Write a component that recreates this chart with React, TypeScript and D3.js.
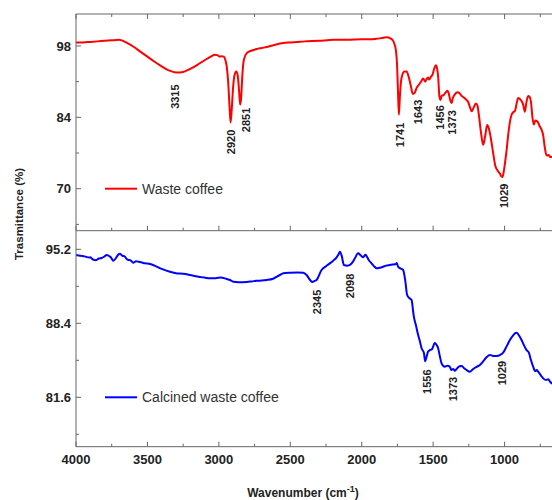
import React from "react";
import * as d3 from "d3";

// ---------- DATA ----------
const wasteWavenumber = [
  4000, 3950, 3900, 3850, 3800, 3750, 3700, 3680, 3650, 3600, 3550, 3500, 3450, 3400, 3350, 3300, 3250, 3200, 3150, 3100,
  3050, 3030, 3010, 2995, 2980, 2965, 2955, 2945, 2935, 2925, 2918, 2910, 2900, 2890, 2878, 2868, 2858, 2851, 2845, 2835,
  2825, 2805, 2770, 2735, 2700, 2650, 2600, 2550, 2500, 2450, 2400, 2300, 2200, 2100, 2000, 1943, 1900, 1850, 1826, 1800,
  1780, 1770, 1760, 1753, 1746, 1740, 1733, 1725, 1715, 1700, 1686, 1670, 1655, 1643, 1630, 1615, 1600, 1585, 1570, 1555,
  1546, 1535, 1528, 1515, 1504, 1492, 1481, 1472, 1465, 1456, 1448, 1440, 1430, 1415, 1400, 1390, 1380, 1371, 1362, 1348,
  1330, 1318, 1300, 1290, 1270, 1255, 1240, 1231, 1215, 1201, 1190, 1180, 1165, 1150, 1135, 1122, 1110, 1098, 1080, 1065,
  1050, 1040, 1033, 1025, 1015, 1005, 995, 986, 975, 960, 951, 940, 928, 915, 905, 893, 881, 870, 858, 848,
  835, 825, 815, 805, 795, 785, 770, 755, 740, 730, 718, 706, 690, 680, 660,
];
const wasteTransmittance = [
  98.7, 98.7, 98.8, 98.9, 99.0, 99.1, 99.2, 99.1, 98.7, 97.9, 96.9, 95.9, 94.9, 94.0, 93.2, 92.8, 92.9, 93.5, 94.3, 95.2,
  96.0, 96.3, 96.2, 95.9, 96.0, 95.9, 95.3, 94.0, 91.0, 86.0, 83.0, 85.5, 90.0, 92.3, 93.0, 92.2, 89.0, 86.5, 87.5, 92.5,
  95.3, 96.6, 97.1, 97.4, 97.6, 97.9, 98.3, 98.6, 98.7, 98.8, 98.9, 99.0, 99.2, 99.2, 99.3, 99.3, 99.4, 99.6, 99.7, 99.5,
  99.0, 98.3, 97.0, 94.5, 89.0, 84.5, 88.0, 91.0, 92.4, 93.0, 93.0, 91.8, 90.0, 88.6, 88.8, 89.8, 90.4, 91.0, 91.6, 91.0,
  91.5, 91.8, 91.4, 92.0, 92.4, 93.6, 94.2, 93.5, 92.0, 88.0, 87.4, 88.3, 88.3, 88.8, 89.2, 88.6, 87.3, 86.8, 87.8, 88.5,
  88.9, 88.8, 88.2, 88.0, 87.5, 87.0, 85.8, 85.2, 86.0, 86.7, 86.3, 84.5, 81.0, 78.6, 80.5, 82.5, 81.8, 80.2, 77.0, 74.5,
  73.6, 73.2, 73.0, 72.5, 72.3, 73.5, 75.5, 77.5, 80.5, 83.5, 84.5, 85.0, 85.2, 86.8, 87.8, 87.6, 87.2, 86.5, 85.1, 86.8,
  88.2, 88.0, 87.0, 84.0, 82.6, 83.4, 83.2, 82.3, 81.5, 80.5, 78.0, 76.5, 76.6, 76.2, 76.3,
];

const calcinedWavenumber = [
  4000, 3970, 3940, 3910, 3902, 3880, 3860, 3840, 3820, 3800, 3785, 3770, 3755, 3739, 3720, 3705, 3692, 3675, 3660, 3645,
  3634, 3620, 3599, 3580, 3560, 3530, 3500, 3482, 3450, 3400, 3342, 3300, 3250, 3202, 3150, 3100, 3062, 3030, 2992, 2950,
  2922, 2899, 2860, 2805, 2770, 2735, 2700, 2665, 2620, 2572, 2549, 2500, 2450, 2409, 2386, 2360, 2345, 2330, 2316, 2281,
  2250, 2223, 2200, 2176, 2160, 2153, 2140, 2125, 2100, 2083, 2065, 2048, 2025, 2008, 1990, 1975, 1966, 1950, 1931, 1910,
  1896, 1875, 1850, 1830, 1803, 1785, 1761, 1755, 1745, 1730, 1710, 1695, 1682, 1665, 1651, 1640, 1635, 1620, 1605, 1590,
  1581, 1565, 1556, 1546, 1535, 1523, 1510, 1500, 1490, 1481, 1465, 1452, 1441, 1430, 1418, 1400, 1383, 1373, 1360, 1348,
  1330, 1315, 1301, 1285, 1265, 1243, 1220, 1195, 1173, 1150, 1125, 1103, 1080, 1056, 1030, 1010, 985, 963, 940, 925,
  916, 900, 881, 865, 846, 830, 815, 800, 785, 775, 765, 745, 730, 710, 695, 680, 669, 660,
];
const calcinedTransmittance = [
  94.68, 94.6, 94.55, 94.45, 94.46, 94.25, 94.2, 94.35, 94.4, 94.55, 94.68, 94.6, 94.45, 94.15, 94.4, 94.7, 94.8, 94.6, 94.55, 94.3,
  94.22, 94.2, 93.97, 94.1, 94.05, 93.95, 93.9, 93.85, 93.7, 93.4, 93.14, 93.0, 92.95, 92.84, 92.7, 92.6, 92.53, 92.55, 92.6, 92.5,
  92.38, 92.22, 92.18, 92.2, 92.25, 92.31, 92.33, 92.38, 92.5, 92.84, 92.99, 93.05, 93.07, 93.05, 92.84, 92.35, 92.2, 92.3, 92.38, 93.3,
  93.65, 93.91, 94.15, 94.46, 94.8, 94.98, 94.6, 93.76, 93.7, 93.76, 94.0, 94.37, 94.83, 94.65, 94.46, 94.7, 94.58, 94.2, 93.91, 93.6,
  93.45, 93.5, 93.6, 93.7, 93.76, 93.8, 93.85, 93.95, 93.6, 93.45, 93.3, 92.3, 91.0, 90.7, 90.54, 89.5, 89.01, 88.2, 87.32, 86.6,
  86.1, 85.7, 84.9, 85.33, 85.8, 85.94, 86.0, 86.25, 86.6, 86.5, 86.1, 85.3, 84.72, 84.5, 84.41, 84.5, 84.41, 84.1, 84.2, 84.05,
  84.3, 84.45, 84.47, 84.3, 84.1, 83.95, 84.2, 84.4, 84.57, 84.9, 85.3, 85.49, 85.4, 85.4, 85.5, 85.7, 86.3, 86.86, 87.3, 87.5,
  87.54, 87.3, 86.86, 86.4, 85.94, 85.7, 85.0, 84.41, 84.0, 84.1, 83.95, 83.6, 83.34, 83.2, 83.25, 83.0, 82.88, 82.85,
];

const xTicks = [4000, 3500, 3000, 2500, 2000, 1500, 1000, 500];
const xTickLabels = ["4000", "3500", "3000", "2500", "2000", "1500", "1000"];
const xMinorTicks = [3750, 3250, 2750, 2250, 1750, 1250, 750];
const topYTicks = [70, 84, 98];
const topYMinor = [63, 77, 91];
const bottomYTicks = [81.6, 88.4, 95.2];
const bottomYMinor = [78.2, 85, 91.8];

// peak annotations: label, anchor wavenumber, anchor transmittance (label centre)
const topPeakLabels = ["3315", "2920", "2851", "1741", "1643", "1456", "1373", "1029"];
const topPeakW = [3305, 2915, 2812, 1732, 1606, 1452, 1368, 1004];
const topPeakT = [88.06, 79.18, 83.49, 80.55, 85.06, 83.98, 83.0, 68.6];
const bottomPeakLabels = ["2345", "2098", "1556", "1373", "1029"];
const bottomPeakW = [2315, 2082, 1545, 1359, 1020];
const bottomPeakT = [90.36, 91.83, 83.03, 82.36, 83.83];

const seriesNames = ["Waste coffee", "Calcined waste coffee"];
const seriesColors = ["#ff0000", "#0000ff"];

// ---------- LAYOUT ----------
const W = 552;
const H = 500;
const left = 76;
const top = 14;
const mid = 230.7;
const bottom = 446.7;
const axisColor = "#666";
const textColor = "#222";
const font = "Liberation Sans, Arial, Helvetica, sans-serif";

export default function App() {
  const x = d3.scaleLinear().domain([4000, 400]).range([left, left + 3600 * (71.43 / 500)]);
  const yTop = d3.scaleLinear().domain([61.76, 104.27]).range([mid, top]);
  const yBot = d3.scaleLinear().domain([77.06, 96.91]).range([bottom, mid]);

  const wasteData = wasteWavenumber.map((w, i) => [w, wasteTransmittance[i]] as [number, number]);
  const calcData = calcinedWavenumber.map((w, i) => [w, calcinedTransmittance[i]] as [number, number]);

  const lineTop = d3.line<[number, number]>().x((d) => x(d[0])).y((d) => yTop(d[1])).curve(d3.curveMonotoneX);
  const lineBot = d3.line<[number, number]>().x((d) => x(d[0])).y((d) => yBot(d[1])).curve(d3.curveMonotoneX);

  const xr = x.range()[1];

  const xTickMarks = (y: number, dir: number, key: string) => (
    <g key={key}>
      {xTicks.map((t) => (
        <line key={"M" + t} x1={x(t)} x2={x(t)} y1={y} y2={y + dir * 5} stroke={axisColor} strokeWidth={1} />
      ))}
      {xMinorTicks.map((t) => (
        <line key={"m" + t} x1={x(t)} x2={x(t)} y1={y} y2={y + dir * 3} stroke={axisColor} strokeWidth={1} />
      ))}
    </g>
  );

  const yAxis = (scale: any, ticks: number[], minor: number[], fmt: (v: number) => string) => (
    <g>
      {ticks.map((t) => (
        <g key={"M" + t}>
          <line x1={left} x2={left + 5} y1={scale(t)} y2={scale(t)} stroke={axisColor} strokeWidth={1} />
          <text x={left - 5} y={scale(t)} dy="0.36em" textAnchor="end" fontSize={13} fontWeight="bold" fill={textColor} fontFamily={font}>
            {fmt(t)}
          </text>
        </g>
      ))}
      {minor.map((t) => (
        <line key={"m" + t} x1={left} x2={left + 3} y1={scale(t)} y2={scale(t)} stroke={axisColor} strokeWidth={1} />
      ))}
    </g>
  );

  const peakLabels = (labels: string[], ws: number[], ts: number[], scale: any) =>
    labels.map((l, i) => (
      <text
        key={l + i}
        transform={`translate(${x(ws[i])},${scale(ts[i])}) rotate(-90)`}
        textAnchor="middle"
        dy="0.36em"
        fontSize={11}
        fontWeight="bold"
        fill={textColor}
        fontFamily={font}
      >
        {l}
      </text>
    ));

  return (
    <svg width={W} height={H} style={{ position: "absolute", left: 0, top: 0, background: "#fff" }}>
      <rect x={0} y={0} width={W} height={H} fill="#fff" />
      <defs>
        <clipPath id="clipTop">
          <rect x={left} y={top} width={xr - left} height={mid - top} />
        </clipPath>
        <clipPath id="clipBot">
          <rect x={left} y={mid} width={xr - left} height={bottom - mid} />
        </clipPath>
      </defs>

      {/* curves */}
      <path d={lineTop(wasteData) || ""} fill="none" stroke={seriesColors[0]} strokeWidth={2} clipPath="url(#clipTop)" />
      <path d={lineBot(calcData) || ""} fill="none" stroke={seriesColors[1]} strokeWidth={2} clipPath="url(#clipBot)" />

      {/* frame */}
      <line x1={left} x2={xr} y1={top} y2={top} stroke={axisColor} strokeWidth={1} />
      <line x1={left} x2={xr} y1={mid} y2={mid} stroke={axisColor} strokeWidth={1} />
      <line x1={left} x2={xr} y1={bottom} y2={bottom} stroke={axisColor} strokeWidth={1} />
      <line x1={left} x2={left} y1={top} y2={bottom} stroke={axisColor} strokeWidth={1} />

      {xTickMarks(top, 1, "t")}
      {xTickMarks(mid, -1, "m")}
      {xTickMarks(bottom, -1, "b")}

      {yAxis(yTop, topYTicks, topYMinor, (v) => String(v))}
      {yAxis(yBot, bottomYTicks, bottomYMinor, (v) => v.toFixed(1))}

      {/* x tick labels */}
      {xTickLabels.map((t) => (
        <text key={"xl" + t} x={x(+t)} y={bottom + 17} textAnchor="middle" fontSize={13} fontWeight="bold" fill={textColor} fontFamily={font}>
          {t}
        </text>
      ))}

      {/* axis titles */}
      <text x={303} y={497} textAnchor="middle" fontSize={12} fontWeight="bold" fill={textColor} fontFamily={font}>
        Wavenumber (cm
        <tspan dy={-5} fontSize={9}>-1</tspan>
        <tspan dy={5}>)</tspan>
      </text>
      <text
        transform={`translate(19,214) rotate(-90)`}
        textAnchor="middle"
        dy="0.36em"
        fontSize={11.5}
        fontWeight="bold"
        fill={textColor}
        fontFamily={font}
      >
        Trasmittance (%)
      </text>

      {/* peak labels */}
      {peakLabels(topPeakLabels, topPeakW, topPeakT, yTop)}
      {peakLabels(bottomPeakLabels, bottomPeakW, bottomPeakT, yBot)}

      {/* legends */}
      <line x1={105} x2={137} y1={yTop(70)} y2={yTop(70)} stroke={seriesColors[0]} strokeWidth={2} />
      <text x={142} y={yTop(70)} dy="0.36em" fontSize={14} fill="#333" fontFamily={font}>
        {seriesNames[0]}
      </text>
      <line x1={105} x2={137} y1={yBot(81.6)} y2={yBot(81.6)} stroke={seriesColors[1]} strokeWidth={2} />
      <text x={142} y={yBot(81.6)} dy="0.36em" fontSize={14} fill="#333" fontFamily={font}>
        {seriesNames[1]}
      </text>
    </svg>
  );
}
